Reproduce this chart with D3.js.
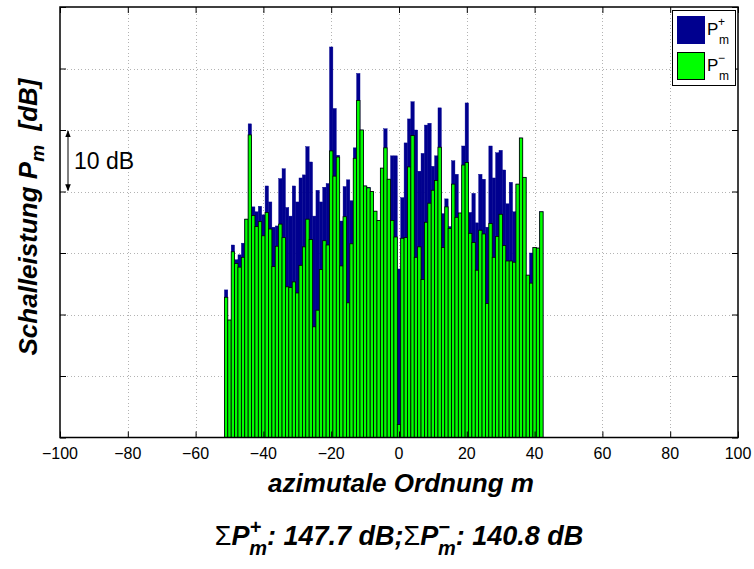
<!DOCTYPE html>
<html>
<head>
<meta charset="utf-8">
<script src="https://cdn.jsdelivr.net/npm/d3@7"></script>
<style>
  html, body { margin: 0; padding: 0; background: #fff; }
  svg { display: block; }
  text { font-family: "Liberation Sans", Arial, Helvetica, sans-serif; }
</style>
</head>
<body>
<div id="chart"></div>
<script>
// Azimuthal orders m (one bar per order)
const orders = d3.range(-51, 43);

// Sound power per azimuthal order, upstream (P+) and downstream (P-), in dB
const powerPlus = [
  104.0, 99.1, 111.3, 108.9, 109.7, 111.6, 115.5, 131.0, 117.5, 116.7,
  117.6, 116.2, 120.9, 118.3, 114.2, 114.4, 122.1, 123.7, 117.4, 116.0,
  120.9, 118.3, 122.2, 122.7, 127.3, 124.8, 116.0, 120.2, 118.3, 120.7,
  121.3, 143.5, 133.5, 125.9, 115.2, 120.8, 121.9, 118.5, 127.1, 139.2,
  130.0, 120.9, 120.7, 120.0, 116.8, 115.3, 123.8, 130.2, 122.0, 125.8,
  125.8, 107.4, 119.0, 127.9, 131.8, 134.6, 130.0, 123.3, 126.2, 130.8,
  131.1, 124.1, 125.8, 133.6, 116.4, 118.8, 114.3, 125.0, 122.8, 116.5,
  127.4, 134.4, 116.6, 119.7, 114.9, 122.8, 122.0, 114.2, 127.4, 122.2,
  126.3, 126.7, 123.5, 118.0, 121.5, 116.7, 121.2, 128.7, 122.3, 106.4,
  110.0, 110.9, 110.8, 116.7
];
const powerMinus = [
  102.8, 99.1, 110.2, 108.3, 107.7, 109.3, 115.5, 129.2, 116.1, 114.3,
  115.1, 112.8, 116.6, 113.9, 107.8, 111.1, 114.7, 112.5, 104.5, 104.4,
  105.3, 103.5, 108.0, 111.0, 115.5, 112.2, 98.0, 100.7, 107.3, 112.0,
  111.3, 126.6, 122.5, 125.6, 107.9, 115.9, 101.9, 111.5, 125.4, 134.8,
  130.0, 120.9, 120.6, 120.0, 116.8, 115.3, 123.8, 127.1, 122.0, 115.3,
  112.6, 82.1, 112.4, 112.5, 124.0, 129.1, 109.3, 111.0, 105.7, 115.0,
  118.1, 120.2, 121.8, 127.2, 110.9, 117.5, 114.0, 121.2, 115.8, 116.5,
  124.3, 124.7, 113.2, 111.7, 107.2, 113.7, 113.1, 101.8, 114.8, 109.3,
  112.7, 116.3, 111.2, 108.7, 108.7, 108.5, 121.2, 128.7, 122.3, 106.4,
  105.1, 110.9, 110.8, 116.7
];

// Axis ticks
const xTicks = d3.range(-100, 101, 20);
const yTicks = d3.range(80, 151, 10);

// Summed levels shown under the chart
const sumPlus = "147.7";
const sumMinus = "140.8";

const W = 754, H = 569;
const plot = { left: 60, right: 738, top: 7, bottom: 437.5 };
const colPlus = "#00008f", colMinus = "#00ff00";

const svg = d3.select("#chart").append("svg")
  .attr("width", W).attr("height", H);

svg.append("rect").attr("width", W).attr("height", H).attr("fill", "#fff");

const x = d3.scaleLinear().domain([-100, 100]).range([plot.left, plot.right]);
const y = d3.scaleLinear().domain([80, 150]).range([plot.bottom, plot.top]);
const bw = x(1) - x(0);

// Dotted grid
const grid = svg.append("g").attr("stroke", "#b3b3b3").attr("stroke-width", 1)
  .attr("stroke-dasharray", "1,2.5").attr("shape-rendering", "crispEdges");
grid.selectAll("line.gx").data(xTicks.slice(1, -1)).join("line")
  .attr("x1", d => Math.round(x(d)) + 0.5).attr("x2", d => Math.round(x(d)) + 0.5)
  .attr("y1", plot.top).attr("y2", plot.bottom);
grid.selectAll("line.gy").data(yTicks.slice(1, -1)).join("line")
  .attr("y1", d => Math.round(y(d)) + 0.5).attr("y2", d => Math.round(y(d)) + 0.5)
  .attr("x1", plot.left).attr("x2", plot.right);

// Bars: P+ behind, P- in front
const rows = orders.map((m, i) => ({ m, p: powerPlus[i], n: powerMinus[i] }));
svg.append("g").selectAll("rect").data(rows).join("rect")
  .attr("x", d => x(d.m) - bw / 2).attr("width", bw)
  .attr("y", d => y(d.p)).attr("height", d => y(80) - y(d.p))
  .attr("fill", colPlus).attr("stroke", colPlus).attr("stroke-width", 0.4);
svg.append("g").selectAll("rect").data(rows).join("rect")
  .attr("x", d => x(d.m) - bw / 2).attr("width", bw)
  .attr("y", d => y(d.n)).attr("height", d => y(80) - y(d.n))
  .attr("fill", colMinus).attr("stroke", "#000").attr("stroke-width", 0.8);

// Axes box with inward ticks on all four sides
const tickLen = 6;
const xAxisB = d3.axisBottom(x).tickValues(xTicks).tickSize(-tickLen).tickFormat("");
const xAxisT = d3.axisTop(x).tickValues(xTicks).tickSize(-tickLen).tickFormat("");
const yAxisL = d3.axisLeft(y).tickValues(yTicks).tickSize(-tickLen).tickFormat("");
const yAxisR = d3.axisRight(y).tickValues(yTicks).tickSize(-tickLen).tickFormat("");
const gB = svg.append("g").attr("transform", `translate(0,${plot.bottom})`).call(xAxisB);
const gT = svg.append("g").attr("transform", `translate(0,${plot.top})`).call(xAxisT);
const gL = svg.append("g").attr("transform", `translate(${plot.left},0)`).call(yAxisL);
const gR = svg.append("g").attr("transform", `translate(${plot.right},0)`).call(yAxisR);
[gB, gT, gL, gR].forEach(g => {
  g.select(".domain").remove();
  g.selectAll(".tick line").attr("stroke", "#000").attr("stroke-width", 1);
});
svg.append("rect")
  .attr("x", plot.left).attr("y", plot.top)
  .attr("width", plot.right - plot.left).attr("height", plot.bottom - plot.top)
  .attr("fill", "none").attr("stroke", "#000").attr("stroke-width", 1.5);

// X tick labels
svg.append("g").selectAll("text").data(xTicks).join("text")
  .attr("x", d => x(d)).attr("y", plot.bottom + 21)
  .attr("text-anchor", "middle").attr("font-size", 16)
  .text(d => d < 0 ? "\u2212" + Math.abs(d) : String(d));

// Axis titles
svg.append("text")
  .attr("x", (plot.left + plot.right) / 2 + 2).attr("y", 492)
  .attr("text-anchor", "middle").attr("font-size", 26)
  .attr("font-weight", "bold").attr("font-style", "italic")
  .text("azimutale Ordnung m");

const yl = svg.append("text")
  .attr("transform", `translate(37,217) rotate(-90)`)
  .attr("text-anchor", "middle").attr("font-size", 26)
  .attr("font-weight", "bold").attr("font-style", "italic");
yl.append("tspan").text("Schalleistung P");
yl.append("tspan").attr("dy", 7).attr("font-size", 19).text("m");
yl.append("tspan").attr("dy", -7).text("\u00a0 [dB]");

// 10 dB scale marker
const defs = svg.append("defs");
defs.append("marker").attr("id", "ah").attr("viewBox", "0 0 10 10")
  .attr("refX", 9).attr("refY", 5).attr("markerWidth", 7).attr("markerHeight", 7)
  .attr("orient", "auto-start-reverse")
  .append("path").attr("d", "M0,1 L10,5 L0,9 Z").attr("fill", "#000");
svg.append("line")
  .attr("x1", 68).attr("x2", 68).attr("y1", y(130) + 1).attr("y2", y(120) - 1)
  .attr("stroke", "#000").attr("stroke-width", 1)
  .attr("marker-start", "url(#ah)").attr("marker-end", "url(#ah)");
svg.append("text").attr("x", 74).attr("y", (y(130) + y(120)) / 2 + 8)
  .attr("font-size", 23).text("10 dB");

// Legend
const lg = svg.append("g");
lg.append("rect").attr("x", 672.5).attr("y", 10.5).attr("width", 63).attr("height", 75)
  .attr("fill", "#fff").attr("stroke", "#000").attr("stroke-width", 1);
const entries = [
  { fill: colPlus, stroke: colPlus, sign: "+", y0: 16 },
  { fill: colMinus, stroke: "#000", sign: "\u2212", y0: 52 }
];
entries.forEach(e => {
  lg.append("rect").attr("x", 677.5).attr("y", e.y0 + 0.5).attr("width", 27).attr("height", 27)
    .attr("fill", e.fill).attr("stroke", e.stroke).attr("stroke-width", 1);
  lg.append("text").attr("x", 707).attr("y", e.y0 + 19).attr("font-size", 17).text("P");
  lg.append("text").attr("x", 718).attr("y", e.y0 + 10).attr("font-size", 12).text(e.sign);
  lg.append("text").attr("x", 719).attr("y", e.y0 + 28).attr("font-size", 12).text("m");
});

// Summed power levels
const st = svg.append("text")
  .attr("x", 399).attr("y", 545).attr("text-anchor", "middle")
  .attr("font-size", 27).attr("font-weight", "bold");
function sumPart(sign, value) {
  st.append("tspan").attr("font-weight", "normal").text("\u03a3");
  st.append("tspan").attr("font-style", "italic").text("P");
  st.append("tspan").attr("font-style", "italic").attr("font-size", 20).attr("dy", -11).text(sign);
  st.append("tspan").attr("font-style", "italic").attr("font-size", 20).attr("dx", -12).attr("dy", 21).text("m");
  st.append("tspan").attr("font-style", "italic").attr("dy", -10).text(": " + value + " dB");
}
sumPart("+", sumPlus);
st.append("tspan").attr("font-style", "italic").text(";");
sumPart("\u2212", sumMinus);
</script>
</body>
</html>
